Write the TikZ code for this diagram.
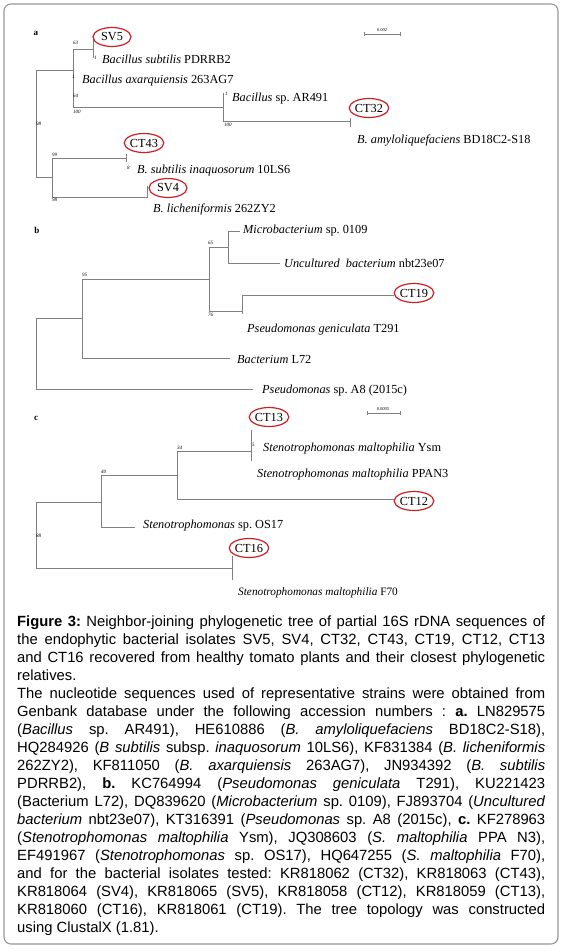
\documentclass[tikz,border=0pt]{standalone}
\usepackage{fontspec}
\setmainfont{Liberation Serif}
\newfontfamily\capfont{Liberation Sans}
\usetikzlibrary{shapes.geometric}
\definecolor{treegray}{RGB}{128,128,128}
\definecolor{isored}{RGB}{210,30,35}
\definecolor{framegray}{RGB}{150,150,150}
\begin{document}
\frenchspacing
\begin{tikzpicture}[x=1pt,y=-1pt,
  br/.style={draw=treegray, line width=0.9pt},
  iso/.style={ellipse, draw=isored, line width=1.2pt, inner sep=0pt, minimum width=38pt, minimum height=19pt, font=\fontsize{12.3}{14}\selectfont},
  tx/.style={anchor=base west, inner sep=0pt, font=\fontsize{12.3}{14}\selectfont},
  bs/.style={anchor=west, inner sep=0pt, font=\fontsize{5}{6}\selectfont\itshape},
  pl/.style={inner sep=0pt, font=\fontsize{9}{10}\selectfont\bfseries},
  sb/.style={draw=treegray, line width=0.7pt},
  sbl/.style={inner sep=0pt, font=\fontsize{4.5}{5}\selectfont\itshape}
]
\useasboundingbox (0,0) rectangle (562,951);
\draw[framegray, line width=1.1pt, rounded corners=7pt] (4,4) rectangle (558,944);

% ---------------- panel a ----------------
\node[pl] (la) at (36,33) {a};
\coordinate (aR) at (36,123);
\coordinate (aN1) at (73,70);
\coordinate (aN2) at (93,49);
\coordinate (aN3) at (223,107);
\coordinate (aN4) at (350,121);
\coordinate (aN5) at (52,177);
\coordinate (aN6) at (126,158);
\coordinate (aN7) at (147,197);
\coordinate (aL1) at (93,39);
\coordinate (aL2) at (93,58);
\coordinate (aL4) at (223,93);
\coordinate (aL5) at (350,118);
\coordinate (aL6) at (350,127);
\coordinate (aL7) at (126,154);
\coordinate (aL8) at (126,162);
\coordinate (aL9) at (147,186);
\coordinate (aL10) at (147,198);
\draw[br] (aR) |- (aN1);
\draw[br] (aR) |- (aN5);
\draw[br] (aN1) |- (aN2);
\draw[br] (aN1) |- (aN3);
\draw[br] (aN2) |- (aL1);
\draw[br] (aN2) |- (aL2);
\draw[br] (aN3) |- (aL4);
\draw[br] (aN3) |- (aN4);
\draw[br] (aN4) |- (aL5);
\draw[br] (aN4) |- (aL6);
\draw[br] (aN5) |- (aN6);
\draw[br] (aN5) |- (aN7);
\draw[br] (aN6) |- (aL7);
\draw[br] (aN6) |- (aL8);
\draw[br] (aN7) |- (aL9);
\draw[br] (aN7) |- (aL10);

\node[iso] (eSV5) at (112,37) {SV5};
\node[tx] (tSub) at (102,63) {\textit{Bacillus subtilis} PDRRB2};
\node[tx] (tAxa) at (82,83) {\textit{Bacillus axarquiensis} 263AG7};
\node[tx] (tAR) at (232,101) {\textit{Bacillus} sp. AR491};
\node[iso] (eCT32) at (369,108) {CT32};
\node[tx] (tAmy) at (357,143) {\textit{B. amyloliquefaciens} BD18C2-S18};
\node[iso] (eCT43) at (144,143) {CT43};
\node[tx] (tIna) at (137,173) {\textit{B. subtilis inaquosorum} 10LS6};
\node[iso] (eSV4) at (168,188) {SV4};
\node[tx] (tLic) at (153,212) {\textit{B. licheniformis} 262ZY2};

\node[bs] (ba1) at (73,43) {63};
\node[bs] (ba2) at (94,58) {1};
\node[bs] (ba3) at (72,77) {1};
\node[bs] (ba4) at (73,96) {64};
\node[bs] (ba5) at (73,112) {100};
\node[bs] (ba6) at (36,124) {98};
\node[bs] (ba7) at (225,94) {1};
\node[bs] (ba8) at (224,125) {100};
\node[bs] (ba9) at (52,155) {99};
\node[bs] (ba10) at (127,168) {8};
\node[bs] (ba11) at (52,200) {98};

\coordinate (sa1) at (364,34);
\coordinate (sa2) at (400,34);
\draw[sb] (sa1) -- (sa2);
\draw[sb] ([yshift=-2pt]sa1) -- ([yshift=2pt]sa1);
\draw[sb] ([yshift=-2pt]sa2) -- ([yshift=2pt]sa2);
\node[sbl] (sal) at (382,30) {0.002};

% ---------------- panel b ----------------
\node[pl] (lb) at (37,230) {b};
\coordinate (bR) at (36,354);
\coordinate (bN1) at (82,318);
\coordinate (bN2) at (209,279);
\coordinate (bN3) at (228,247);
\coordinate (bN4) at (242,311);
\coordinate (bL1) at (240,231);
\coordinate (bL2) at (280,263);
\coordinate (bL3) at (394,295);
\coordinate (bL4) at (242,314);
\coordinate (bL5) at (230,358);
\coordinate (bL6) at (253,389);
\draw[br] (bR) |- (bN1);
\draw[br] (bR) |- (bL6);
\draw[br] (bN1) |- (bN2);
\draw[br] (bN1) |- (bL5);
\draw[br] (bN2) |- (bN3);
\draw[br] (bN2) |- (bN4);
\draw[br] (bN3) |- (bL1);
\draw[br] (bN3) |- (bL2);
\draw[br] (bN4) |- (bL3);
\draw[br] (bN4) |- (bL4);

\node[tx] (tMic) at (243,233) {\textit{Microbacterium} sp. 0109};
\node[tx] (tUnc) at (284,267) {\textit{Uncultured\enspace bacterium} nbt23e07};
\node[iso] (eCT19) at (414,293) {CT19};
\node[tx] (tGen) at (247,332) {\textit{Pseudomonas geniculata} T291};
\node[tx] (tL72) at (237,363) {\textit{Bacterium} L72};
\node[tx] (tA8) at (262,393) {\textit{Pseudomonas} sp. A8 (2015c)};

\node[bs] (bb1) at (82,275) {95};
\node[bs] (bb2) at (208,243) {65};
\node[bs] (bb3) at (208,315) {76};

% ---------------- panel c ----------------
\node[pl] (lc) at (36,418) {c};
\coordinate (cR) at (36,535);
\coordinate (cN1) at (101,502);
\coordinate (cN2) at (177,475);
\coordinate (cN3) at (251,451);
\coordinate (cN4) at (232,568);
\coordinate (cL1) at (251,430);
\coordinate (cL2) at (251,461);
\coordinate (cL3) at (394,499);
\coordinate (cL4) at (135,527);
\coordinate (cL5) at (232,556);
\coordinate (cL6) at (232,580);
\draw[br] (cR) |- (cN1);
\draw[br] (cR) |- (cN4);
\draw[br] (cN1) |- (cN2);
\draw[br] (cN1) |- (cL4);
\draw[br] (cN2) |- (cN3);
\draw[br] (cN2) |- (cL3);
\draw[br] (cN3) |- (cL1);
\draw[br] (cN3) |- (cL2);
\draw[br] (cN4) |- (cL5);
\draw[br] (cN4) |- (cL6);

\node[iso] (eCT13) at (269,417) {CT13};
\node[tx] (tYsm) at (263,451) {\textit{Stenotrophomonas maltophilia} Ysm};
\node[tx] (tPPA) at (257,477) {\textit{Stenotrophomonas maltophilia} PPAN3};
\node[iso] (eCT12) at (414,501) {CT12};
\node[tx] (tOS) at (143,528) {\textit{Stenotrophomonas} sp. OS17};
\node[iso] (eCT16) at (249,548) {CT16};
\node[tx, font=\fontsize{11.3}{13}\selectfont] (tF70) at (238,595) {\textit{Stenotrophomonas maltophilia} F70};

\node[bs] (bc1) at (177,448) {34};
\node[bs] (bc2) at (101,472) {40};
\node[bs] (bc3) at (252,445) {5};
\node[bs] (bc4) at (36,536) {88};

\coordinate (sc1) at (367,413);
\coordinate (sc2) at (400,413);
\draw[sb] (sc1) -- (sc2);
\draw[sb] ([yshift=-2pt]sc1) -- ([yshift=2pt]sc1);
\draw[sb] ([yshift=-2pt]sc2) -- ([yshift=2pt]sc2);
\node[sbl] (scl) at (383,409) {0.0005};

% ---------------- caption ----------------
\node[anchor=north west, inner sep=0pt] (cap) at (17,616) {\parbox{528pt}{\capfont\fontsize{14.8}{18}\selectfont\frenchspacing
\textbf{Figure 3:} Neighbor-joining phylogenetic tree of partial 16S rDNA sequences of\linebreak
the endophytic bacterial isolates SV5, SV4, CT32, CT43, CT19, CT12, CT13\linebreak
and CT16 recovered from healthy tomato plants and their closest phylogenetic\linebreak
relatives.\par
The nucleotide sequences used of representative strains were obtained from\linebreak
Genbank database under the following accession numbers : \textbf{a.} LN829575\linebreak
(\textit{Bacillus} sp. AR491), HE610886 (\textit{B. amyloliquefaciens} BD18C2-S18),\linebreak
HQ284926 (\textit{B subtilis} subsp. \textit{inaquosorum} 10LS6), KF831384 (\textit{B. licheniformis}\linebreak
262ZY2), KF811050 (\textit{B. axarquiensis} 263AG7), JN934392 (\textit{B. subtilis}\linebreak
PDRRB2), \textbf{b.} KC764994 (\textit{Pseudomonas geniculata} T291), KU221423\linebreak
(Bacterium L72), DQ839620 (\textit{Microbacterium} sp. 0109), FJ893704 (\textit{Uncultured}\linebreak
\textit{bacterium} nbt23e07), KT316391 (\textit{Pseudomonas} sp. A8 (2015c), \textbf{c.} KF278963\linebreak
(\textit{Stenotrophomonas maltophilia} Ysm), JQ308603 (\textit{S. maltophilia} PPA N3),\linebreak
EF491967 (\textit{Stenotrophomonas} sp. OS17), HQ647255 (\textit{S. maltophilia} F70),\linebreak
and for the bacterial isolates tested: KR818062 (CT32), KR818063 (CT43),\linebreak
KR818064 (SV4), KR818065 (SV5), KR818058 (CT12), KR818059 (CT13),\linebreak
KR818060 (CT16), KR818061 (CT19). The tree topology was constructed\linebreak
using ClustalX (1.81).}};
\end{tikzpicture}
\end{document}
